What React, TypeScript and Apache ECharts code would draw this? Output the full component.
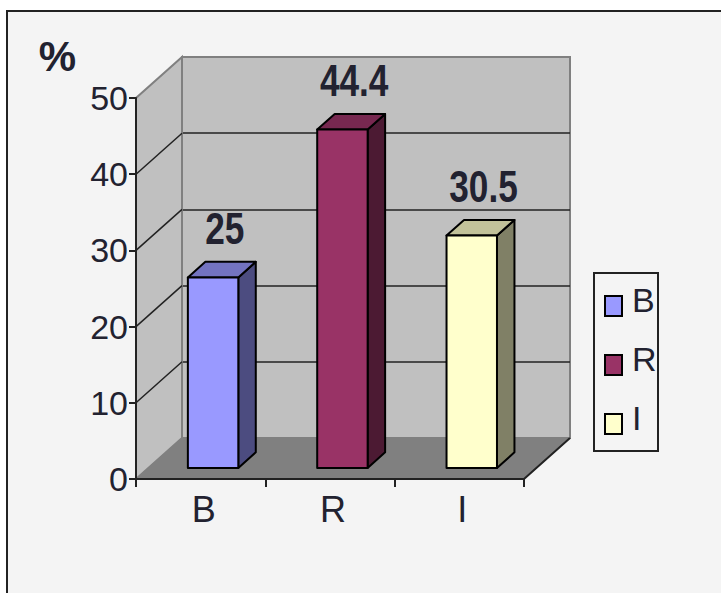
import React, { useEffect, useRef } from 'react';
import * as echarts from 'echarts';

const categories = ['B', 'R', 'I'];
const values = [25, 44.4, 30.5];
const barColors = ['#9999ff', '#993366', '#ffffcc'];
const topColors = ['#7373c0', '#772850', '#c2c29a'];
const sideColors = ['#4c4c80', '#4c1a33', '#808066'];
const yMin = 0;
const yMax = 50;
const yStep = 10;
const sideGridTicks = [10, 20, 30, 40];
const yUnit = '%';

const DX = 46;
const DY = -41;
const F0 = 0.27;
const FD = 0.38;
const TXT = '#222230';
const FONT = '"Liberation Sans", Arial, Helvetica, sans-serif';

// legend box layout
const LEG_X = 594;
const LEG_Y = 273;
const LEG_W = 64;
const LEG_H = 178;
const LEG_STEP = 59;

export default function App() {
  const ref = useRef<HTMLDivElement>(null);
  useEffect(() => {
    if (!ref.current) return;
    const chart = echarts.init(ref.current, undefined, { renderer: 'svg' });
    const legendElements: any[] = [
      {
        type: 'rect',
        shape: { x: LEG_X, y: LEG_Y, width: LEG_W, height: LEG_H },
        style: { fill: 'none', stroke: '#222', lineWidth: 2 },
      },
    ];
    categories.forEach((c, i) => {
      legendElements.push({
        type: 'rect',
        shape: { x: LEG_X + 11, y: LEG_Y + 23 + i * LEG_STEP, width: 17, height: 20 },
        style: { fill: barColors[i], stroke: '#000', lineWidth: 2 },
      });
      legendElements.push({
        type: 'text',
        x: LEG_X + 38,
        y: LEG_Y + 27 + i * LEG_STEP,
        style: {
          text: c, fill: TXT, fontSize: 34, fontFamily: FONT,
          align: 'left', verticalAlign: 'middle',
        },
      });
    });

    const option: any = {
      animation: false,
      textStyle: { fontFamily: FONT },
      graphic: { elements: legendElements },
      grid: [
        { left: 136, top: 98, width: 388, height: 381 },
        {
          left: 182, top: 57, width: 388, height: 381, show: true,
          backgroundColor: '#c0c0c0', borderColor: '#808080', borderWidth: 2,
        },
      ],
      xAxis: [
        {
          gridIndex: 0, type: 'category', data: categories, boundaryGap: true, z: 5,
          axisLine: { show: true, lineStyle: { color: '#222', width: 2 } },
          axisTick: { show: true, length: 8, alignWithLabel: false, lineStyle: { color: '#222', width: 2 } },
          axisLabel: { fontSize: 36, color: TXT, margin: 12, fontFamily: FONT, padding: [0, 0, 0, 6] },
          splitLine: { show: false },
        },
        { gridIndex: 1, type: 'category', data: categories, show: false },
      ],
      yAxis: [
        {
          gridIndex: 0, type: 'value', min: yMin, max: yMax, interval: yStep, z: 5,
          name: yUnit, nameLocation: 'end', nameGap: 21,
          nameTextStyle: { fontSize: 42, fontWeight: 'bold', color: TXT, align: 'right', padding: [0, 60, 0, 0], fontFamily: FONT },
          axisLine: { show: true, lineStyle: { color: '#222', width: 2 } },
          axisTick: { show: true, length: 7, lineStyle: { color: '#222', width: 2 } },
          axisLabel: { fontSize: 34, color: TXT, margin: 8, fontFamily: FONT },
          splitLine: { show: false },
        },
        {
          gridIndex: 1, type: 'value', min: yMin, max: yMax, interval: yStep, z: 1,
          axisLine: { show: false }, axisTick: { show: false }, axisLabel: { show: false },
          splitLine: { show: true, showMinLine: false, showMaxLine: false, lineStyle: { color: '#222', width: 1.5 } },
        },
      ],
      series: [
        {
          type: 'custom', name: 'walls', xAxisIndex: 0, yAxisIndex: 0, z: 2, silent: true,
          data: [[0, yMin]],
          renderItem: (params: any, api: any) => {
            const cs = params.coordSys;
            const x0 = cs.x;
            const x1 = cs.x + cs.width;
            const yb = api.coord([0, yMin])[1];
            const yt = api.coord([0, yMax])[1];
            return {
              type: 'group',
              children: [
                {
                  type: 'polygon',
                  shape: { points: [[x0, yb], [x0, yt], [x0 + DX, yt + DY], [x0 + DX, yb + DY]] },
                  style: { fill: '#c0c0c0', stroke: '#808080', lineWidth: 2 },
                },
                {
                  type: 'polygon',
                  shape: { points: [[x0, yb], [x1, yb], [x1 + DX, yb + DY], [x0 + DX, yb + DY]] },
                  style: { fill: '#808080', stroke: '#808080', lineWidth: 1 },
                },
                {
                  type: 'polyline',
                  shape: { points: [[x0, yb], [x1, yb], [x1 + DX, yb + DY]] },
                  style: { fill: 'none', stroke: '#222', lineWidth: 2 },
                },
              ],
            };
          },
        },
        {
          type: 'custom', name: 'sideGrid', xAxisIndex: 0, yAxisIndex: 0, z: 3, silent: true,
          data: sideGridTicks.map((v) => [0, v]),
          renderItem: (params: any, api: any) => {
            const x0 = params.coordSys.x;
            const y = api.coord([0, api.value(1)])[1];
            return {
              type: 'line',
              shape: { x1: x0, y1: y, x2: x0 + DX, y2: y + DY },
              style: { stroke: '#222', lineWidth: 1.5 },
            };
          },
        },
        {
          type: 'custom', name: 'bars', xAxisIndex: 0, yAxisIndex: 0, z: 4, silent: true,
          data: values.map((v, i) => [i, v]),
          renderItem: (params: any, api: any) => {
            const i = api.value(0);
            const v = api.value(1);
            const top = api.coord([i, v]);
            const cx = top[0];
            const yBot = api.coord([i, yMin])[1];
            const bw = api.size([1, 0])[0] * 0.39;
            const L = cx - bw / 2 + F0 * DX;
            const R = L + bw;
            const T = top[1] + F0 * DY;
            const B = yBot + F0 * DY;
            const ddx = FD * DX;
            const ddy = FD * DY;
            const stroke = { stroke: '#000', lineWidth: 2, lineJoin: 'round' };
            return {
              type: 'group',
              children: [
                {
                  type: 'polygon',
                  shape: { points: [[R, T], [R + ddx, T + ddy], [R + ddx, B + ddy], [R, B]] },
                  style: { fill: sideColors[i], ...stroke },
                },
                {
                  type: 'polygon',
                  shape: { points: [[L, T], [R, T], [R + ddx, T + ddy], [L + ddx, T + ddy]] },
                  style: { fill: topColors[i], ...stroke },
                },
                {
                  type: 'rect',
                  shape: { x: L, y: T, width: bw, height: B - T },
                  style: { fill: barColors[i], ...stroke },
                },
                {
                  type: 'text',
                  x: L + (bw + ddx) / 2 + 3,
                  y: T + ddy - 11,
                  scaleX: 0.8,
                  style: {
                    text: String(v), fill: TXT, fontSize: 44, fontWeight: 'bold', fontFamily: FONT,
                    align: 'center', verticalAlign: 'bottom',
                  },
                },
              ],
            };
          },
        },
      ],
    };
    chart.setOption(option);
    return () => chart.dispose();
  }, []);

  return (
    <div style={{ position: 'fixed', left: 0, top: 0, width: 721, height: 593, background: '#fff', overflow: 'hidden' }}>
      <div
        style={{
          position: 'absolute', left: 6, top: 10, width: 740, height: 620,
          borderLeft: '2px solid #222', borderTop: '2px solid #222', background: '#f4f4f4',
        }}
      />
      <div ref={ref} style={{ position: 'absolute', left: 0, top: 0, width: 721, height: 593 }} />
    </div>
  );
}
